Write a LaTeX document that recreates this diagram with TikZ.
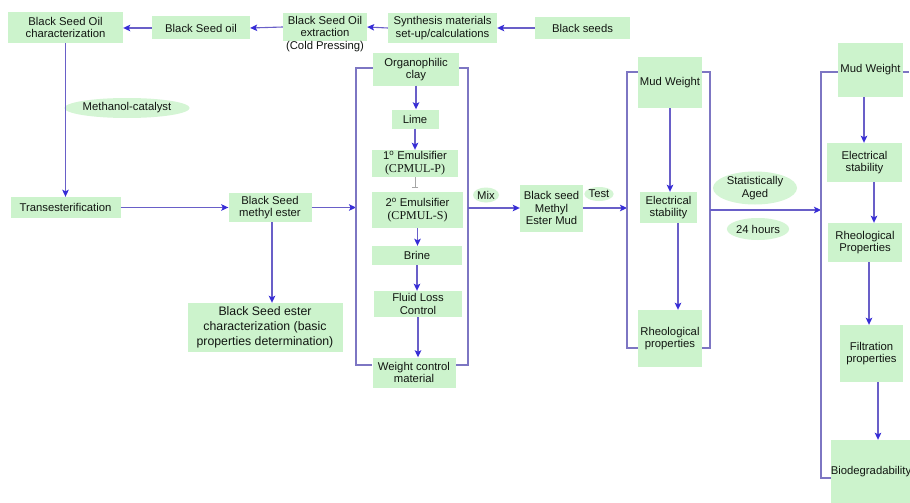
\documentclass[tikz,border=0pt]{standalone}
\usepackage{fontspec}
\setmainfont{Liberation Sans}
\newfontfamily\serifcp{Liberation Serif}
\usetikzlibrary{arrows.meta,shapes.geometric}
\definecolor{boxg}{RGB}{204,243,204}
\definecolor{ellg}{RGB}{212,245,212}
\definecolor{linec}{RGB}{105,95,200}
\definecolor{headc}{RGB}{55,45,215}
\definecolor{brkc}{RGB}{125,118,195}
\definecolor{txtc}{RGB}{18,22,18}
\begin{document}
\begin{tikzpicture}[x=1pt,y=-1pt,
  box/.style={fill=boxg, inner sep=0pt, align=center, text=txtc, font=\fontsize{11.3}{12.8}\selectfont},
  ell/.style={ellipse, fill=ellg, inner sep=0pt, align=center, text=txtc, font=\fontsize{11.3}{12.8}\selectfont},
  lbl/.style={inner sep=0pt, align=center, text=txtc, font=\fontsize{11.3}{12.8}\selectfont},
  arr/.style={draw=linec, line width=1.1pt, -{Stealth[length=7pt,width=6.5pt,inset=1.5pt,color=headc,fill=headc]}},
  brk/.style={draw=brkc, line width=1.2pt},
  tick/.style={draw=gray!70, line width=0.6pt, -{Bar[width=6pt]}, shorten >=4pt}
]
\useasboundingbox[fill=white] (0,0) rectangle (910,503);

% top row
\node[box, minimum width=115pt, minimum height=31pt] (charac) at (65.5,27.5) {Black Seed Oil\\characterization};
\node[box, minimum width=98pt, minimum height=23pt] (bsoil) at (201,28) {Black Seed oil};
\node[box, minimum width=84pt, minimum height=28pt] (ext) at (325,27) {};
\node[lbl] (exttxt) at (325,34) {Black Seed Oil\\extraction\\(Cold Pressing)};
\node[box, minimum width=109pt, minimum height=30pt] (synth) at (442.5,28) {Synthesis materials\\set-up/calculations};
\node[box, minimum width=95pt, minimum height=22pt] (seeds) at (582.5,28) {Black seeds};

\draw[arr] (seeds.west) -- (synth.east);
\draw[arr] (synth.west) -- (ext.east);
\draw[arr] (ext.west) -- (bsoil.east);
\draw[arr] (bsoil.west) -- (charac.east |- bsoil.west);

% left column
\node[ell, minimum width=115pt, minimum height=20pt] (meth) at (127,108) {Methanol-catalyst};
\node[box, minimum width=110pt, minimum height=21pt] (trans) at (65.5,207.5) {Transesterification};
\draw[arr] (charac.south) -- (trans.north);
\node[box, minimum width=83pt, minimum height=29pt] (bsme) at (270,207.5) {Black Seed\\methyl ester};
\draw[arr] (trans.east) -- (bsme.west);
\coordinate (b1in) at (356,207.5);
\draw[arr] (bsme.east) -- (b1in);
\node[box, font=\fontsize{12.3}{15}\selectfont, minimum width=155pt, minimum height=49pt] (esterc) at (265,327.5) {Black Seed ester\\characterization (basic\\properties determination)};
\draw[arr] ([xshift=2pt]bsme.south) -- ([xshift=2pt]bsme.south |- esterc.north);

% middle column
\node[box, minimum width=86pt, minimum height=32pt] (clay) at (416,69.5) {Organophilic\\clay};
\node[box, minimum width=47pt, minimum height=19pt] (lime) at (415,119) {Lime};
\node[box, minimum width=86pt, minimum height=27pt] (emul1) at (415,163.5) {1\textsuperscript{o} Emulsifier\\{\serifcp\fontsize{12}{13}\selectfont (CPMUL-P)}};
\node[box, minimum width=91pt, minimum height=36pt] (emul2) at (417.5,210) {2\textsuperscript{o} Emulsifier\\{\serifcp\fontsize{12}{13}\selectfont (CPMUL-S)}};
\node[box, minimum width=90pt, minimum height=19pt] (brine) at (417,255.5) {Brine};
\node[box, minimum width=88pt, minimum height=26pt] (fluid) at (418,304) {Fluid Loss\\Control};
\node[box, minimum width=83pt, minimum height=30pt] (weight) at (414,372.5) {Weight control\\material};

\draw[arr] (clay.south) -- (clay.south |- lime.north);
\draw[arr] (lime.south) -- (lime.south |- emul1.north);
\draw[tick] (emul1.south) -- (emul1.south |- emul2.north);
\draw[arr] (emul2.south) -- (emul2.south |- brine.north);
\draw[arr] (brine.south) -- (brine.south |- fluid.north);
\draw[arr] (fluid.south) -- (fluid.south |- weight.north);

\coordinate (b1tl) at (356,68);
\coordinate (b1bl) at (356,365);
\coordinate (b1tr) at (468,68);
\coordinate (b1br) at (468,365);
\coordinate (b1out) at (468,208);
\draw[brk] (clay.west |- b1tl) -- (b1tl) -- (b1bl) -- (weight.west |- b1bl);
\draw[brk] (clay.east |- b1tr) -- (b1tr) -- (b1br) -- (weight.east |- b1br);

\node[ell, minimum width=26pt, minimum height=15pt] (mix) at (486,195) {Mix};
\node[box, minimum width=63pt, minimum height=47pt] (bsmem) at (551.5,208) {Black seed\\Methyl\\Ester Mud};
\draw[arr] (b1out) -- (bsmem.west);
\node[ell, minimum width=28pt, minimum height=14pt] (test) at (599,194) {Test};
\coordinate (b2in) at (627,208);
\draw[arr] (bsmem.east) -- (b2in);

% second test column
\node[box, minimum width=64pt, minimum height=51pt] (mud1) at (670,82.5) {Mud Weight};
\node[box, minimum width=57pt, minimum height=31pt] (elec1) at (668.5,207.5) {Electrical\\stability};
\node[box, minimum width=64pt, minimum height=57pt] (rheo1) at (670,338.5) {Rheological\\properties};
\draw[arr] (mud1.south) -- (mud1.south |- elec1.north);
\draw[arr] ([xshift=9.5pt]elec1.south) -- ([xshift=9.5pt]elec1.south |- rheo1.north);

\coordinate (b2tl) at (627,72);
\coordinate (b2bl) at (627,348);
\coordinate (b2tr) at (710,72);
\coordinate (b2br) at (710,348);
\coordinate (b2out) at (710,210);
\draw[brk] (mud1.west |- b2tl) -- (b2tl) -- (b2bl) -- (rheo1.west |- b2bl);
\draw[brk] (mud1.east |- b2tr) -- (b2tr) -- (b2br) -- (rheo1.east |- b2br);

\coordinate (b3in) at (821,210);
\draw[arr] (b2out) -- (b3in);
\node[ell, minimum width=84pt, minimum height=31pt] (stat) at (755,188) {Statistically\\Aged};
\node[ell, minimum width=50pt, minimum height=22pt] (hours) at (758,229) {24 hours};

% third column
\node[box, minimum width=65pt, minimum height=54pt] (mud2) at (870.5,70) {Mud Weight};
\node[box, minimum width=75pt, minimum height=39pt] (elec2) at (864.5,162.5) {Electrical\\stability};
\node[box, minimum width=74pt, minimum height=39pt] (rheo2) at (865,242.5) {Rheological\\Properties};
\node[box, minimum width=63pt, minimum height=57pt] (filt) at (871.5,353.5) {Filtration\\properties};
\node[box, minimum width=78pt, minimum height=63pt] (bio) at (871,471.5) {Biodegradability};

\draw[arr] ([xshift=-6.5pt]mud2.south) -- ([xshift=-6.5pt]mud2.south |- elec2.north);
\draw[arr] ([xshift=9.5pt]elec2.south) -- ([xshift=9.5pt]elec2.south |- rheo2.north);
\draw[arr] ([xshift=4pt]rheo2.south) -- ([xshift=4pt]rheo2.south |- filt.north);
\draw[arr] ([xshift=6.5pt]filt.south) -- ([xshift=6.5pt]filt.south |- bio.north);

\coordinate (b3tl) at (821,72);
\coordinate (b3bl) at (821,478);
\coordinate (b3tr) at (909,72);
\draw[brk] (mud2.west |- b3tl) -- (b3tl) -- (b3bl) -- (bio.west |- b3bl);
\draw[brk] (mud2.east |- b3tr) -- (b3tr);
\end{tikzpicture}
\end{document}
